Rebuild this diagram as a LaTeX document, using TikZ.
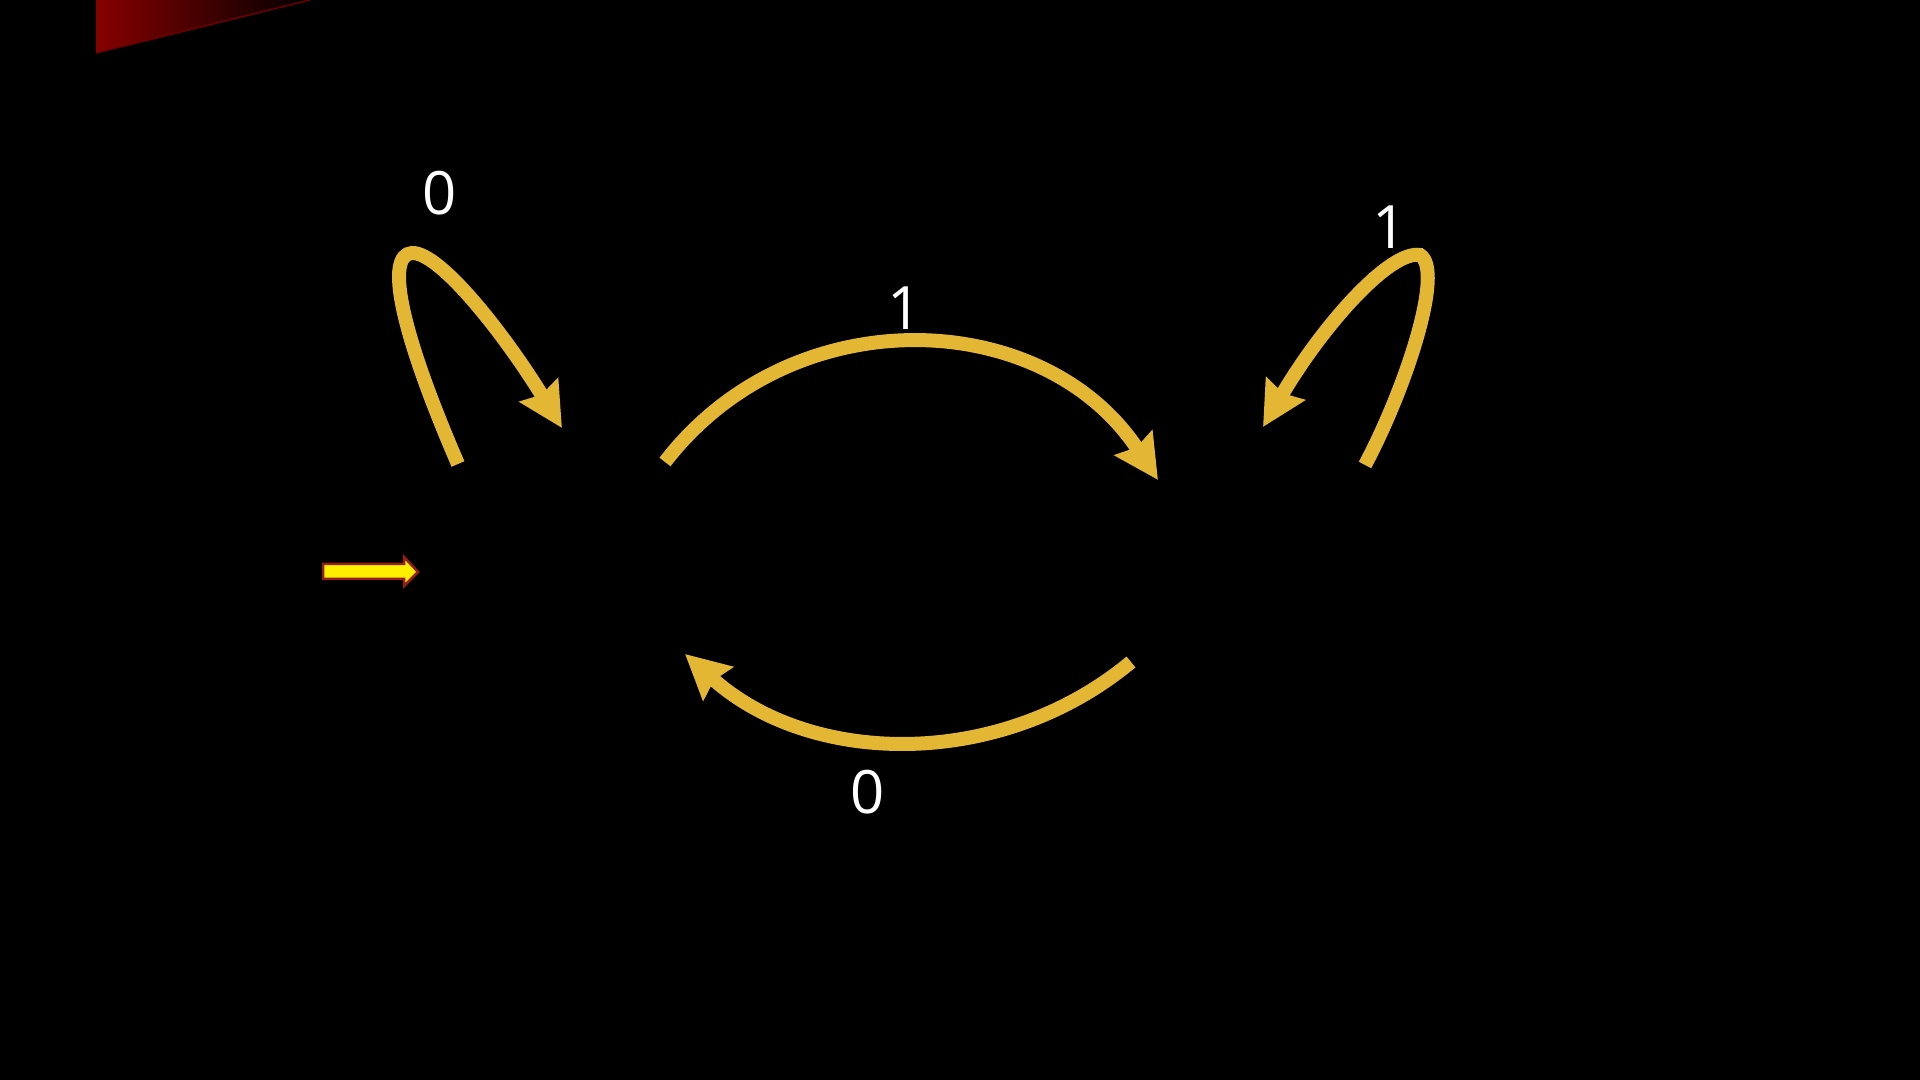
\documentclass[tikz,border=0pt]{standalone}
\usepackage{fontspec}
\setmainfont{Open Sans}
\usetikzlibrary{arrows.meta}
\definecolor{edgegold}{RGB}{227,183,52}
\definecolor{startfill}{RGB}{255,240,0}
\definecolor{startline}{RGB}{150,30,20}
\definecolor{wedgered}{RGB}{135,0,0}
\tikzset{
  EdgeGold/.style={draw=edgegold, line width=0.14cm,
    -{Stealth[length=0.44cm,width=0.44cm,inset=0.05cm]}},
  EdgeLabel/.style={text=white, font=\fontsize{17}{20}\selectfont, inner sep=0pt},
  StartArrow/.style={fill=startfill, draw=startline, line width=0.025cm, line join=miter}
}

\begin{document}
\begin{tikzpicture}[x=0.01cm,y=-0.01cm]
            \fill[black] (0,0) rectangle (1920,1080);
            \useasboundingbox (0,0) rectangle (1920,1080);
            \shade[left color=wedgered, right color=black] (96,0) -- (96,53) -- (310,0) -- cycle;
            \draw[wedgered!80!black, line width=0.015cm] (96,53) -- (310,0);

            \coordinate (q_0) at (480,570);
            \coordinate (q_1) at (1300,570);
            \coordinate (l_0) at (458,464);
            \coordinate (t_0) at (412,253);
            \coordinate (h_0) at (562,428);
            \coordinate (l_1) at (1365,465);
            \coordinate (t_1) at (1420,255);
            \coordinate (h_1) at (1263,427);
            \coordinate (a_0) at (665,462);
            \coordinate (a_1) at (1158,480);
            \coordinate (b_1) at (1131,662);
            \coordinate (b_0) at (685,654);

            \draw[StartArrow] (323,564) -- (404,564) -- (404,557) -- (418,572)
                -- (404,586) -- (404,579) -- (323,579) -- cycle;

            \draw[EdgeGold] (l_0) .. controls (400,330) and (385,255) .. (t_0)
                .. controls (440,252) and (505,335) .. (h_0);
            \draw[EdgeGold] (l_1) .. controls (1405,390) and (1445,270) .. (t_1)
                .. controls (1390,250) and (1323,325) .. (h_1);
            \draw[EdgeGold] (a_0) .. controls (792,297) and (1043,306) .. (a_1);
            \draw[EdgeGold] (b_1) .. controls (1001,770) and (811,767) .. (b_0);

            \node[EdgeLabel] (s_00) at (440,193) {0};
            \node[EdgeLabel] (s_01) at (905,308) {1};
            \node[EdgeLabel] (s_11) at (1390,227) {1};
            \node[EdgeLabel] (s_10) at (868,792) {0};
          \end{tikzpicture}
\end{document}
